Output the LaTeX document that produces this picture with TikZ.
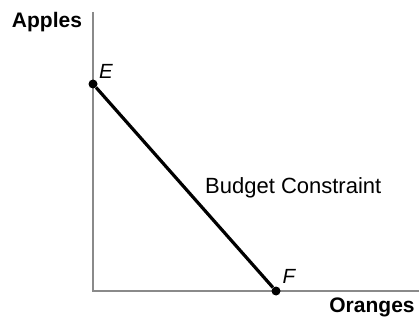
\documentclass[tikz,border=0pt]{standalone}
\usepackage{fontspec}
\setmainfont{Liberation Sans}
\usepackage{xcolor}
\usepackage{tikz}
\usetikzlibrary{positioning}
\definecolor{axisGray}{HTML}{8A8A8A}

\begin{document}
\begin{tikzpicture}[
  x=1pt, y=1pt,
  every node/.style={font=\fontsize{22}{26}\selectfont},
  axis/.style={line width=1.6pt, axisGray},
  budget/.style={line width=3.2pt, black},
  dot/.style={circle, fill=black, inner sep=0pt, minimum size=9pt},
  axlabel/.style={font=\fontsize{21}{25}\selectfont\bfseries},
  ptlabel/.style={font=\fontsize{20.5}{24}\selectfont\itshape, inner sep=0pt},
]
\useasboundingbox (0,0) rectangle (419,321);

% Axes
\coordinate (ytop) at (93,309);
\coordinate (xend) at (419,30);
\draw[axis] (ytop) |- (xend);

% Axis labels
\node[axlabel] (apples) at (47,299) {Apples};
\node[axlabel] (oranges) at (372,14) {Oranges};

% Points and budget line
\node[dot] (E) at (93,237) {};
\node[dot] (F) at (276,30) {};
\draw[budget] (E) -- (F);
\node[ptlabel] (Elab) at (106,250) {E};
\node[ptlabel] (Flab) at (289,45) {F};

% Line label
\node[anchor=base west, inner sep=0pt] (bc) at (205,127) {Budget Constraint};

\end{tikzpicture}
\end{document}
